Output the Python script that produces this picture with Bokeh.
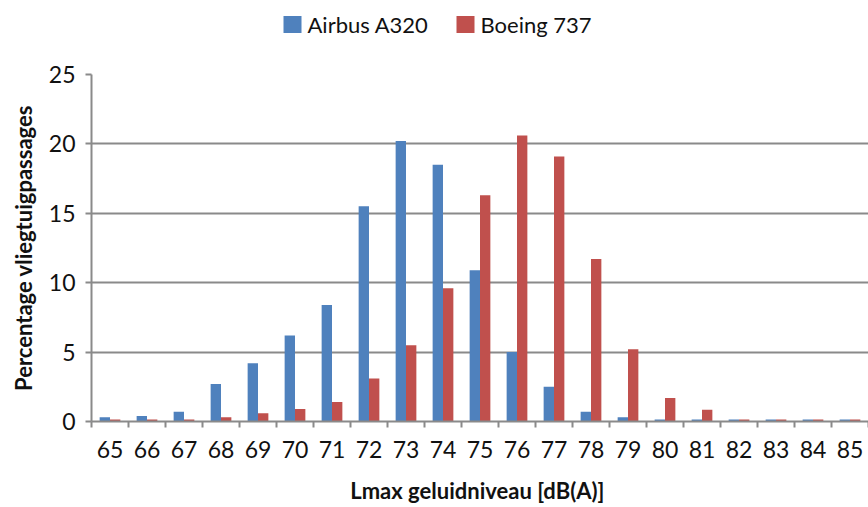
from bokeh.plotting import figure
from bokeh.layouts import column
from bokeh.models import ColumnDataSource, FixedTicker, Range1d
from bokeh.core.properties import value
from bokeh.transform import dodge
from bokeh.embed import file_html
from bokeh.resources import INLINE

levels = [65, 66, 67, 68, 69, 70, 71, 72, 73, 74, 75, 76, 77, 78, 79, 80, 81, 82, 83, 84, 85]
airbus = [0.3, 0.4, 0.7, 2.7, 4.2, 6.2, 8.4, 15.5, 20.2, 18.5, 10.9, 5.0, 2.5, 0.7, 0.3, 0.15, 0.15, 0.15, 0.15, 0.15, 0.15]
boeing = [0.15, 0.15, 0.15, 0.3, 0.6, 0.9, 1.4, 3.1, 5.5, 9.6, 16.3, 20.6, 19.1, 11.7, 5.2, 1.7, 0.85, 0.15, 0.15, 0.15, 0.15]
series_names = ["Airbus A320", "Boeing 737"]
y_ticks = [0, 5, 10, 15, 20, 25]

FONT = "Lato"
BLUE = "#4F81BD"
RED = "#C0504D"
GRID = "#8a8a8a"
TXT = "#111111"
colors = [BLUE, RED]

# ---- legend strip on top (pixel-like coordinates: x = page x, y = page y) ----
LEG_H = 58
leg = figure(width=868, height=LEG_H, output_backend="svg", toolbar_location=None,
             x_axis_type=None, y_axis_type=None,
             x_range=Range1d(91, 868), y_range=Range1d(LEG_H, 0),
             min_border_left=91, min_border_right=0, min_border_top=0, min_border_bottom=0)
leg.outline_line_color = None
leg.xgrid.grid_line_color = None
leg.ygrid.grid_line_color = None
leg.border_fill_color = "white"
swatch_left = [283, 456]
leg_src = ColumnDataSource(dict(
    sx=[s + 9 for s in swatch_left],
    tx=[s + 24 for s in swatch_left],
    y=[24, 24],
    name=series_names,
    color=colors,
))
leg.rect(x="sx", y="y", width=18, height=17, source=leg_src, fill_color="color", line_color=None)
leg.text(x="tx", y="y", text="name", source=leg_src, text_font=value(FONT),
         text_font_size="22px", text_baseline="middle", text_align="left", text_color=TXT)

# ---- main chart ----
src = ColumnDataSource(dict(x=levels, a=airbus, b=boeing))

p = figure(width=868, height=507 - LEG_H, output_backend="svg", toolbar_location=None,
           x_range=Range1d(levels[0] - 0.5, levels[-1] + 0.5),
           y_range=Range1d(0, 25),
           min_border_left=91, min_border_right=0, min_border_top=74 - LEG_H, min_border_bottom=86)
p.outline_line_color = None
p.background_fill_color = "white"
p.border_fill_color = "white"

p.vbar(x=dodge("x", -0.14, range=p.x_range), top="a", width=0.28, source=src,
       fill_color=BLUE, line_color=None)
p.vbar(x=dodge("x", 0.14, range=p.x_range), top="b", width=0.28, source=src,
       fill_color=RED, line_color=None)

# X axis
xa = p.xaxis[0]
xa.ticker = FixedTicker(ticks=levels, minor_ticks=[v - 0.5 for v in levels] + [levels[-1] + 0.5])
xa.major_tick_out = 0
xa.major_tick_in = 0
xa.minor_tick_out = 6
xa.minor_tick_in = 0
xa.minor_tick_line_color = GRID
xa.minor_tick_line_width = 2
xa.axis_line_color = GRID
xa.axis_line_width = 2
xa.major_label_standoff = 13
xa.major_label_text_font = FONT
xa.major_label_text_font_size = "23px"
xa.major_label_text_color = TXT
xa.axis_label = "Lmax geluidniveau  [dB(A)]"
xa.axis_label_text_font = FONT
xa.axis_label_text_font_size = "22px"
xa.axis_label_text_font_style = "bold"
xa.axis_label_text_color = TXT
xa.axis_label_standoff = 16

# Y axis
ya = p.yaxis[0]
ya.ticker = FixedTicker(ticks=y_ticks)
ya.major_tick_out = 6
ya.major_tick_in = 0
ya.major_tick_line_color = GRID
ya.major_tick_line_width = 2
ya.minor_tick_out = 0
ya.minor_tick_in = 0
ya.axis_line_color = GRID
ya.axis_line_width = 2
ya.major_label_standoff = 10
ya.major_label_text_font = FONT
ya.major_label_text_font_size = "23px"
ya.major_label_text_color = TXT
ya.axis_label = "Percentage vliegtuigpassages"
ya.axis_label_text_font = FONT
ya.axis_label_text_font_size = "22px"
ya.axis_label_text_font_style = "bold"
ya.axis_label_text_color = TXT
ya.axis_label_standoff = 9

p.xgrid.grid_line_color = None
p.ygrid.grid_line_color = GRID
p.ygrid.grid_line_width = 2

layout = column(leg, p, spacing=0)
open("out.html", "w").write(file_html(layout, INLINE))
